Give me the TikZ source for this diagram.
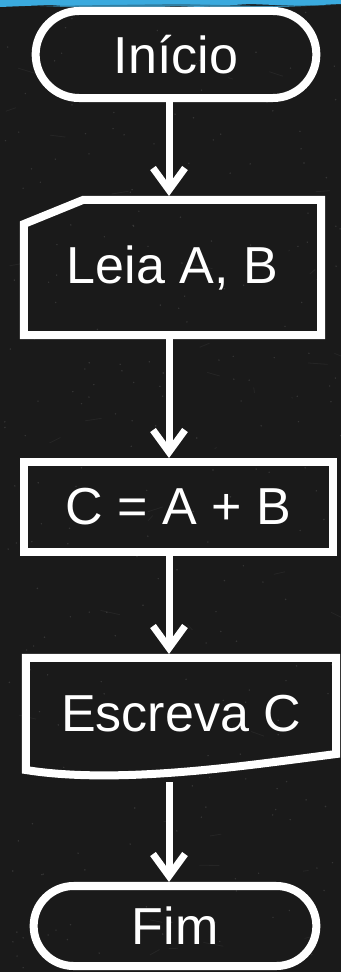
\documentclass[tikz,border=0pt]{standalone}
\usepackage{fontspec}
\setmainfont{Liberation Sans}
\usepackage{xcolor}
\usetikzlibrary{
    shapes.misc,
    arrows.meta,
    positioning,
    calc
}
\definecolor{board}{RGB}{26,26,26}
\definecolor{chalkblue}{RGB}{58,170,222}

\begin{document}
\begin{tikzpicture}[
        x=0.025cm, y=-0.025cm,
        term/.style={draw=white, line width=0.2cm, rounded rectangle, minimum width=7.25cm, minimum height=2.175cm, text=white, font=\fontsize{37}{40}\selectfont},
        proc/.style={draw=white, line width=0.2cm, rectangle, minimum width=7.725cm, minimum height=2.25cm, text=white, font=\fontsize{37}{40}\selectfont},
        io/.style={rectangle, outer sep=0pt, text=white, font=\fontsize{37}{40}\selectfont},
        chalk/.style={draw=white, line width=0.2cm, line join=miter},
        arrow/.style={-{Straight Barb[length=0.55cm, width=0.8cm]}, draw=white, line width=0.175cm}
    ]
        \useasboundingbox (0,0) rectangle (341,972);
        \fill[board] (0,0) rectangle (341,972);
        \pgfmathsetseed{42}
        \foreach \i in {1,...,260}
            \fill[white, opacity=0.12] ({rnd*341},{rnd*972}) circle (0.02cm);
        \foreach \i in {1,...,40}
            \draw[white, opacity=0.05, line width=0.02cm] ({rnd*341},{rnd*972}) -- ++({rnd*40-20},{rnd*12-6});
        \fill[chalkblue] (0,0) -- (341,0) -- (341,4) -- (300,6) -- (250,4) -- (200,7) -- (150,5) -- (90,8) -- (50,5) -- (0,7) -- cycle;
        \fill[chalkblue!70!board] (40,6) -- (120,9) -- (180,6) -- (260,8) -- (330,5) -- (260,6) -- (180,4) -- cycle;

        \node[term] (inicio) at (176,54.5) {Início};
        \node[io, minimum width=7.425cm, minimum height=3.375cm] (leia) at (172.5,267.5) {Leia A, B};
        \node[proc] (calc) at (178.5,507) {C = A + B};
        \node[io, minimum width=7.75cm, minimum height=2.8cm] (escreva) at (181,714) {Escreva C};
        \node[term, minimum width=7.3cm, minimum height=2cm] (fim) at (175,926) {Fim};

        \draw[chalk] ($(leia.north west)+(0,24)$) -- ($(leia.north west)+(59,0)$) -- (leia.north east) -- (leia.south east) -- (leia.south west) -- cycle;
        \draw[chalk] (escreva.south west) -- (escreva.north west) -- (escreva.north east) -- ($(escreva.south east)+(0,-16)$) .. controls ($(escreva.south)+(69,-5)$) and ($(escreva.south)+(-61,15)$) .. (escreva.south west) -- cycle;

        \coordinate (spine) at (169,0);
        \draw[arrow] (spine |- inicio.south) -- ([yshift=0.1cm]spine |- leia.north);
        \draw[arrow] ([yshift=-0.1cm]spine |- leia.south) -- (spine |- calc.north);
        \draw[arrow] (spine |- calc.south) -- ([yshift=0.1cm]spine |- escreva.north);
        \draw[arrow] ([yshift=-0.3cm]spine |- escreva.south) -- (spine |- fim.north);
    \end{tikzpicture}
\end{document}
